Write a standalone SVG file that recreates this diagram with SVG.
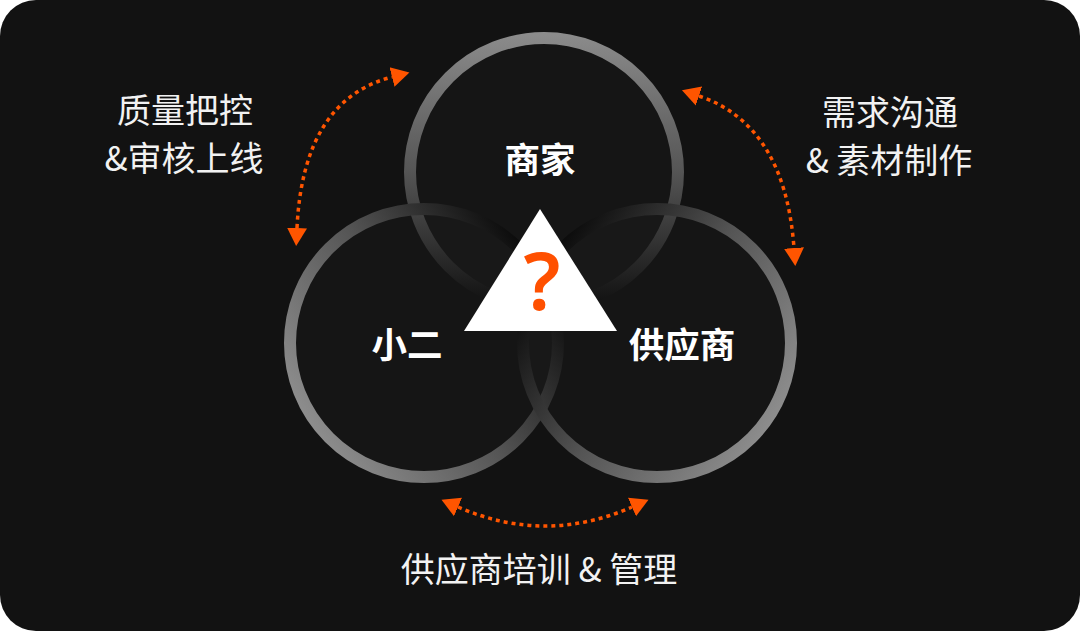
<svg xmlns="http://www.w3.org/2000/svg" width="1080" height="631" viewBox="0 0 1080 631">
<defs>
<style>
.ring{fill:rgba(255,255,255,0.015);stroke-width:12}
.title{font-family:"Noto Sans CJK SC","Noto Sans",sans-serif;font-weight:700;font-size:35.5px;fill:#ffffff;text-anchor:middle}
.label{font-family:"Noto Sans CJK SC","Noto Sans",sans-serif;font-weight:400;font-size:34px;fill:#f2f2f2;text-anchor:middle}
.arrow{fill:none;stroke:#ff5500;stroke-width:3.5;stroke-dasharray:4 4;marker-start:url(#ah);marker-end:url(#ah)}
</style>
<marker id="ah" viewBox="0 -11 19 22" refX="0" refY="0" markerWidth="19" markerHeight="22" markerUnits="userSpaceOnUse" orient="auto-start-reverse">
<path d="M0,-10 L18,0 L0,10 Z" fill="#ff5500"/>
</marker>
<linearGradient id="gTop" gradientUnits="userSpaceOnUse" x1="543" y1="32" x2="543" y2="312">
<stop offset="0" stop-color="#8c8c8c"/>
<stop offset="0.5" stop-color="#555555"/>
<stop offset="1" stop-color="#0a0a0a"/>
</linearGradient>
<linearGradient id="gLeft" gradientUnits="userSpaceOnUse" x1="310" y1="420" x2="540" y2="265">
<stop offset="0" stop-color="#8c8c8c"/>
<stop offset="0.5" stop-color="#555555"/>
<stop offset="1" stop-color="#0a0a0a"/>
</linearGradient>
<linearGradient id="gRight" gradientUnits="userSpaceOnUse" x1="772" y1="420" x2="542" y2="265">
<stop offset="0" stop-color="#8c8c8c"/>
<stop offset="0.5" stop-color="#555555"/>
<stop offset="1" stop-color="#0a0a0a"/>
</linearGradient>
</defs>
<rect x="0" y="0" width="1080" height="631" rx="36" ry="36" fill="#121212"/>

<g id="node-merchant">
<circle class="ring" cx="544" cy="172" r="134" stroke="url(#gTop)"/>
</g>
<g id="node-xiaoer">
<circle class="ring" cx="424" cy="343" r="134" stroke="url(#gLeft)"/>
</g>
<g id="node-supplier">
<circle class="ring" cx="657" cy="343" r="134" stroke="url(#gRight)"/>
</g>

<g id="node-center">
<polygon points="540,209 464,331 617,331" fill="#ffffff"/>
<text x="542" y="310" font-family="'Noto Sans','Liberation Sans',sans-serif" font-weight="600" font-size="80" fill="#ff5000" text-anchor="middle">?</text>
</g>

<g id="titles">
<text class="title" x="540" y="173">商家</text>
<text class="title" x="407" y="358">小二</text>
<text class="title" x="682" y="358">供应商</text>
</g>

<g id="connectors">
<path class="arrow" d="M297,228 Q303,100 392,77"/>
<path class="arrow" d="M699,96 Q785,125 794,248"/>
<path class="arrow" d="M458,507 Q545,545 632,507"/>
</g>

<g id="labels">
<text class="label" x="185" y="123">质量把控</text>
<text class="label" x="184" y="171">&amp;审核上线</text>
<text class="label" x="890" y="125">需求沟通</text>
<text class="label" x="889" y="173">&amp; 素材制作</text>
<text class="label" x="539" y="582">供应商培训 &amp; 管理</text>
</g>
</svg>
